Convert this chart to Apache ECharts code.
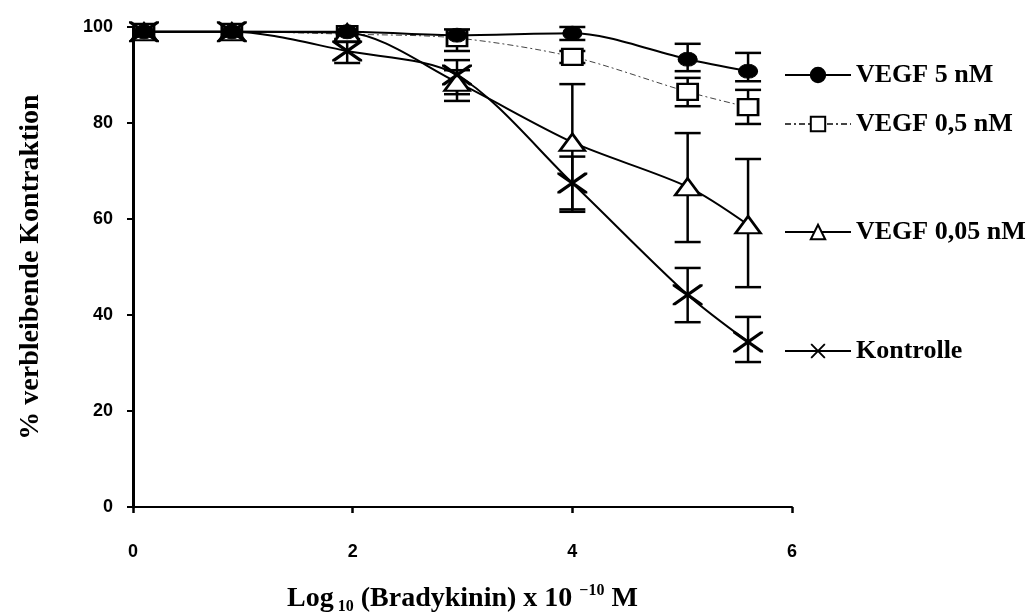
<!DOCTYPE html>
<html><head><meta charset="utf-8">
<script src="https://cdn.jsdelivr.net/npm/echarts@6/dist/echarts.min.js"></script>
<style>html,body{margin:0;padding:0;background:#fff}#c{width:1029px;height:615px}</style>
</head><body><div id="c"></div>
<script>
// ---- data ----
const xValues = [0.1, 0.9, 1.95, 2.95, 4.0, 5.05, 5.6];
const seriesNames = ['VEGF 5 nM', 'VEGF 0,5 nM', 'VEGF 0,05 nM', 'Kontrolle'];
const vegf5 = [99, 99, 99, 98.3, 98.7, 93.3, 90.8];
const vegf05 = [99, 99, 98.5, 97.7, 93.8, 86.5, 83.3];
const vegf005 = [99, 99, 98.8, 88.5, 76, 66.7, 58.8];
const kontrolle = [99, 99, 95, 90, 67.5, 44.2, 34.4];
// error bars: [x, low, high]
const err5 = [[4.0, 97.3, 100], [5.05, 90.8, 96.5], [5.6, 88.7, 94.6]];
const err05 = [[2.95, 95, 99.5], [4.0, 92.5, 95], [5.05, 83.5, 89.4], [5.6, 79.8, 86.9]];
const err005 = [[2.95, 86, 91], [4.0, 61.5, 88.1], [5.05, 55.2, 77.9], [5.6, 45.8, 72.5]];
const errK = [[1.95, 92.5, 97.5], [2.95, 84.6, 93.1], [4.0, 62, 73], [5.05, 38.5, 49.8], [5.6, 30.2, 39.6]];
const yTicks = [0, 20, 40, 60, 80, 100];
const xTicks = [0, 2, 4, 6];
const legendCenters = [73, 122, 230, 349];

// ---- chart ----
const pts = arr => xValues.map((x, i) => [x, arr[i]]);
const X_SYMBOL = 'path://M0,0 L3,0 L32,20 L32,22 L29,22 L0,2 Z M29,0 L32,0 L32,2 L3,22 L0,22 L0,20 Z';
const FONT_SERIF = "'Liberation Serif', 'Times New Roman', serif";
const FONT_SANS = "'Liberation Sans', Arial, sans-serif";

function errSeries(data) {
  return {
    type: 'custom', data: data, z: 2, silent: true,
    encode: { x: 0, y: [1, 2] },
    renderItem: function (params, api) {
      const x = api.value(0), lo = api.value(1), hi = api.value(2);
      const a = api.coord([x, lo]), b = api.coord([x, hi]);
      const hw = 13, st = { stroke: '#000', lineWidth: 2.5 };
      return { type: 'group', children: [
        { type: 'line', shape: { x1: a[0], y1: a[1], x2: b[0], y2: b[1] }, style: st },
        { type: 'line', shape: { x1: a[0] - hw, y1: a[1], x2: a[0] + hw, y2: a[1] }, style: st },
        { type: 'line', shape: { x1: b[0] - hw, y1: b[1], x2: b[0] + hw, y2: b[1] }, style: st }
      ] };
    }
  };
}

const chart = echarts.init(document.getElementById('c'), null, { renderer: 'canvas' });
const option = {
  animation: false,
  backgroundColor: '#fff',
  grid: { left: 133, right: 237, top: 27, bottom: 108, outerBoundsMode: 'none' },
  xAxis: {
    type: 'value', min: xTicks[0], max: xTicks[xTicks.length - 1], interval: 2,
    axisLine: { onZero: false, lineStyle: { color: '#000', width: 2 } },
    axisTick: { show: true, length: 6, lineStyle: { color: '#000', width: 2.5 } },
    axisLabel: { color: '#000', fontFamily: FONT_SANS, fontWeight: 'bold', fontSize: 18, margin: 36 },
    splitLine: { show: false },
    name: '{b|Log}{s| 10}{b| (Bradykinin) x 10 }{p|−10}{b| M}',
    nameLocation: 'middle', nameGap: 76,
    nameTextStyle: {
      rich: {
        b: { fontFamily: FONT_SERIF, fontWeight: 'bold', fontSize: 28, color: '#000', lineHeight: 32, verticalAlign: 'middle' },
        s: { fontFamily: FONT_SERIF, fontWeight: 'bold', fontSize: 16, color: '#000', verticalAlign: 'bottom', lineHeight: 32, padding: [10, 0, 0, 0] },
        p: { fontFamily: FONT_SERIF, fontWeight: 'bold', fontSize: 16, color: '#000', verticalAlign: 'top', lineHeight: 32, padding: [0, 0, 10, 0] }
      }
    }
  },
  yAxis: {
    type: 'value', min: yTicks[0], max: yTicks[yTicks.length - 1], interval: 20,
    axisLine: { show: true, lineStyle: { color: '#000', width: 3 } },
    axisTick: { show: true, length: 6, lineStyle: { color: '#000', width: 2 } },
    axisLabel: { color: '#000', fontFamily: FONT_SANS, fontWeight: 'bold', fontSize: 18, margin: 20 },
    splitLine: { show: false },
    name: '% verbleibende Kontraktion', nameLocation: 'middle', nameGap: 88,
    nameTextStyle: { fontFamily: FONT_SERIF, fontWeight: 'bold', fontSize: 28, color: '#000' }
  },
  legend: seriesNames.map((n, i) => ({
    data: [n], left: 779, top: legendCenters[i] - 16, orient: 'horizontal',
    itemWidth: 66, itemHeight: 18, selectedMode: false,
    textStyle: { fontFamily: FONT_SERIF, fontWeight: 'bold', fontSize: 26, color: '#000' }
  })),
  series: [
    errSeries(err5), errSeries(err05), errSeries(err005), errSeries(errK),
    {
      name: seriesNames[0], type: 'line', data: pts(vegf5), smooth: 0.3, z: 4,
      symbol: 'circle', symbolSize: [19, 14],
      lineStyle: { color: '#000', width: 2 },
      itemStyle: { color: '#000', borderColor: '#000', borderWidth: 1 }
    },
    {
      name: seriesNames[1], type: 'line', data: pts(vegf05), smooth: 0.3, z: 3,
      symbol: 'rect', symbolSize: [20, 16],
      lineStyle: { color: '#444', width: 1, type: [6, 3, 2, 3] },
      itemStyle: { color: '#fff', borderColor: '#000', borderWidth: 2.5 }
    },
    {
      name: seriesNames[2], type: 'line', data: pts(vegf005), smooth: 0.3, z: 3,
      symbol: 'triangle', symbolSize: [25, 17],
      lineStyle: { color: '#000', width: 2 },
      itemStyle: { color: '#fff', borderColor: '#000', borderWidth: 2.5 }
    },
    {
      name: seriesNames[3], type: 'line', data: pts(kontrolle), smooth: 0.3, z: 3,
      symbol: X_SYMBOL, symbolSize: [30, 21], symbolKeepAspect: false,
      lineStyle: { color: '#000', width: 2 },
      itemStyle: { color: '#000' }
    }
  ]
};
chart.setOption(option);
</script>
</body></html>
